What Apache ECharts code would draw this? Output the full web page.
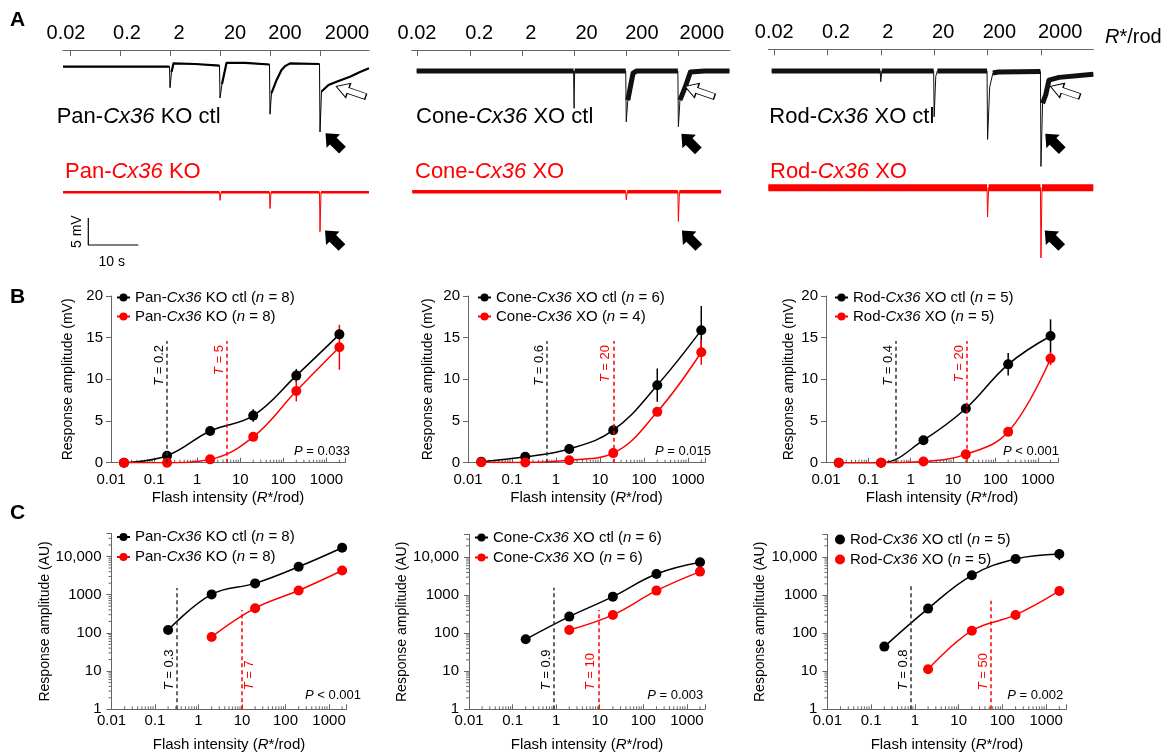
<!DOCTYPE html>
<html>
<head>
<meta charset="utf-8">
<title>Cx36 flash responses</title>
<script src="https://cdn.jsdelivr.net/npm/echarts@6/dist/echarts.min.js"></script>
<style>
html, body { margin: 0; padding: 0; background: #fff; }
#main { width: 1165px; height: 752px; }
</style>
</head>
<body>
<div id="main"></div>
<script>
// ---------- data ----------
var flashLabels = ['0.02', '0.2', '2', '20', '200', '2000'];
var flashTimes = [0, 10, 20, 30, 40, 50];          // s, flash onsets in A
var intensity = [0.02, 0.2, 2, 20, 200, 2000];     // R*/rod
var intensityC = [0.2, 2, 20, 200, 2000];
var intensityCKo = [2, 20, 200, 2000];
var minorTicksX = [0.02, 0.03, 0.04, 0.05, 0.06, 0.07, 0.08, 0.09, 0.2, 0.3, 0.4, 0.5, 0.6, 0.7, 0.8, 0.9,
  2, 3, 4, 5, 6, 7, 8, 9, 20, 30, 40, 50, 60, 70, 80, 90, 200, 300, 400, 500, 600, 700, 800, 900, 2000];
var minorTicksY = [2, 3, 4, 5, 6, 7, 8, 9, 20, 30, 40, 50, 60, 70, 80, 90, 200, 300, 400, 500, 600, 700, 800, 900,
  2000, 3000, 4000, 5000, 6000, 7000, 8000, 9000, 20000, 30000];

// A: example traces [t (s), mV]; *Band = noisy stretches
var panCtlTrace = [[-1.4, 0], [19.9, 0], [20, -3.9], [20.3, -1.0], [20.7, 0.6], [25, 0.5], [29.9, 0.2], [30, -5.8],
  [30.4, -3.2], [31.3, 0.7], [35, 0.7], [39.9, 0.4], [40, -8.8], [40.3, -4.9], [41.3, -2.5], [42.3, -0.6], [43, 0.1],
  [44, 0.6], [49.9, 0.5], [50, -12.1], [50.3, -4.6], [51.7, -3.4], [53.3, -2.8], [56, -1.85], [58, -1.0], [59.8, -0.3]];
var panCtlBand = [[[-1.4, 0], [19.9, 0]], [[20.3, -1.0], [20.7, 0.6], [25, 0.5], [29.9, 0.2]],
  [[30.4, -3.2], [31.3, 0.7], [35, 0.7], [39.9, 0.4]],
  [[40.3, -4.9], [41.3, -2.5], [42.3, -0.6], [43, 0.1], [44, 0.6], [49.9, 0.5]],
  [[50.3, -4.6], [51.7, -3.4], [53.3, -2.8], [56, -1.85], [58, -1.0], [59.8, -0.3]]];
var panKoTrace = [[-1.4, 0], [29.9, 0], [30, -1.5], [30.2, 0], [39.9, 0], [40, -3], [40.2, 0], [49.9, 0], [50, -7.3],
  [50.2, 0], [59.8, 0]];
var panKoBand = [[[-1.4, 0], [29.9, 0]], [[30.2, 0], [39.9, 0]], [[40.2, 0], [49.9, 0]], [[50.2, 0], [59.8, 0]]];

var coneCtlTrace = [[-0.2, 0], [29.9, 0], [30, -6.9], [30.1, 0], [39.9, 0], [40, -9.4], [40.3, -5.4], [41.3, -0.4],
  [42, 0], [49.9, 0], [50, -10.3], [50.3, -5.4], [51.3, -3], [52.3, -0.2], [55, 0], [59.8, 0]];
var coneCtlBand = [[[-0.2, 0], [29.9, 0]], [[30.1, 0], [39.9, 0]], [[40.3, -5.4], [41.3, -0.4], [42, 0], [49.9, 0]],
  [[50.3, -5.4], [51.3, -3], [52.3, -0.2], [55, 0], [59.8, 0]]];
var coneXoTrace = [[-1.04, 0], [39.9, 0], [40, -1.5], [40.2, 0], [49.9, 0], [50, -5.5], [50.2, 0], [58.2, 0]];
var coneXoBand = [[[-1.04, 0], [39.9, 0]], [[40.2, 0], [49.9, 0]], [[50.2, 0], [58.2, 0]]];

var rodCtlTrace = [[-0.43, 0], [19.9, 0], [20, -2], [20.2, 0], [29.9, 0], [30, -8.5], [30.3, -1], [30.6, 0], [39.9, 0],
  [40, -12.7], [40.4, -3], [41, -0.4], [42, -0.2], [49.9, -0.1], [50, -17.7], [50.3, -6], [50.9, -4.4], [51.5, -1.7],
  [53.4, -1.2], [59.8, -0.6]];
var rodCtlBand = [[[-0.43, 0], [19.9, 0]], [[20.2, 0], [29.9, 0]], [[30.6, 0], [39.9, 0]],
  [[41, -0.4], [42, -0.2], [49.9, -0.1]], [[50.3, -6], [50.9, -4.4], [51.5, -1.7], [53.4, -1.2], [59.8, -0.6]]];
var rodXoTrace = [[-1.06, 0], [39.9, 0], [40, -5.4], [40.2, 0], [49.9, 0], [50, -13], [50.2, 0], [59.8, 0]];
var rodXoBand = [[[-1.06, 0], [39.9, 0]], [[40.2, 0], [49.9, 0]], [[50.2, 0], [59.8, 0]]];

// B: response amplitude (mV), mean and SEM
var panCtlB = [0, 0.84, 3.8, 5.65, 10.45, 15.4];
var panCtlBErr = [0, 0.15, 0.2, 0.75, 0.8, 0.4];
var panKoB = [0, 0, 0.4, 3.1, 8.6, 13.85];
var panKoBErr = [0, 0, 0.1, 0.2, 1.25, 2.7];
var coneCtlB = [0.1, 0.7, 1.65, 3.9, 9.3, 15.9];
var coneCtlBErr = [0.05, 0.1, 0.15, 0.3, 2.0, 2.9];
var coneXoB = [0.05, 0.02, 0.3, 1.15, 6.1, 13.25];
var coneXoBErr = [0, 0, 0.1, 0.4, 0.4, 1.5];
var rodCtlB = [0, 0, 2.7, 6.5, 11.8, 15.2];
var rodCtlBErr = [0, 0, 0.2, 0.3, 1.35, 2.0];
var rodXoB = [0, 0, 0.15, 1.0, 3.7, 12.5];
var rodXoBErr = [0, 0, 0.05, 0.2, 0.35, 0.8];

// C: response amplitude (AU)
var panCtlC = [119, 1018, 1977, 5370, 16900];
var panKoC = [78.5, 443, 1285, 4300];
var coneCtlC = [69.5, 275, 922, 3640, 7380];
var coneXoC = [122, 304, 1327, 4200];
var rodCtlC = [44.6, 446, 3360, 9040, 12240];
var rodCtlCLo = [44.6, 446, 3360, 8600, 8400];
var rodCtlCHi = [44.6, 446, 3360, 9500, 15500];
var rodXoC = [11.3, 117, 304, 1300];

// thresholds: line position, top of line, label
var panThrB = { x: [0.2, 4.8], top: [14.6, 14.6], text: ['0.2', '5'] };
var coneThrB = { x: [0.62, 20], top: [14.6, 14.6], text: ['0.6', '20'] };
var rodThrB = { x: [0.44, 21], top: [14.6, 14.6], text: ['0.4', '20'] };
var panThrC = { x: [0.32, 10], top: [1500, 400], text: ['0.3', '7'] };
var coneThrC = { x: [0.9, 9.3], top: [1590, 410], text: ['0.9', '10'] };
var rodThrC = { x: [0.8, 55], top: [1760, 720], text: ['0.8', '50'] };

var legendText = {
  B1k: 'Pan-{i|Cx36} KO ctl ({i|n} = 8)', B1r: 'Pan-{i|Cx36} KO ({i|n} = 8)',
  B2k: 'Cone-{i|Cx36} XO ctl ({i|n} = 6)', B2r: 'Cone-{i|Cx36} XO ({i|n} = 4)',
  B3k: 'Rod-{i|Cx36} XO ctl ({i|n} = 5)', B3r: 'Rod-{i|Cx36} XO ({i|n} = 5)',
  C1k: 'Pan-{i|Cx36} KO ctl ({i|n} = 8)', C1r: 'Pan-{i|Cx36} KO ({i|n} = 8)',
  C2k: 'Cone-{i|Cx36} XO ctl ({i|n} = 6)', C2r: 'Cone-{i|Cx36} XO ({i|n} = 6)',
  C3k: 'Rod-{i|Cx36} XO ctl ({i|n} = 5)', C3r: 'Rod-{i|Cx36} XO ({i|n} = 5)'
};

// ---------- layout / style ----------
var FONT = '"Liberation Sans", Arial, Helvetica, sans-serif';
var AX = '#666';
var RED = '#ff0000';
var PX_MV = 5.4;
var V_MIN = -20;
var ARROW = 'path://M10,0L20,12L14,12L14,30L6,30L6,12L0,12Z';
var ARROW_FAT = 'path://M10,0L20,11L15,11L15,24L5,24L5,11L0,11Z';

var option = {
  animation: false,
  backgroundColor: '#fff',
  textStyle: { fontFamily: FONT },
  grid: [], xAxis: [], yAxis: [], series: [], legend: [], graphic: []
};

function italicRich(size, color) {
  return { i: { fontStyle: 'italic', fontSize: size, fontFamily: FONT, color: color, fill: color } };
}

function txt(x, y, text, size, color, align, extra) {
  var el = {
    type: 'text', x: x, y: y, silent: true,
    style: {
      text: text, fill: color || '#000', fontSize: size, fontFamily: FONT,
      align: align || 'left', verticalAlign: 'middle', rich: italicRich(size, color || '#000')
    }
  };
  if (extra) for (var k in extra) el[k] = extra[k];
  option.graphic.push(el);
}

function flashFmt(times) {
  return function (v) {
    for (var i = 0; i < times.length; i++) {
      if (Math.abs(times[i] - v) < 1e-6) return flashLabels[i];
    }
    return '';
  };
}

function decadeLabel(v, comma) {
  var l = Math.log(v) / Math.LN10, r = Math.round(l);
  if (Math.abs(l - r) > 1e-4) return '';
  if (r < 0) return Math.pow(10, r).toFixed(-r);
  var s = String(Math.round(Math.pow(10, r)));
  return (comma && s.length > 4) ? s.replace(/(\d)(?=(\d{3})+$)/g, '$1,') : s;
}

// ---------- panel A ----------
function traceGrid(left, top, width, tRange, vMax, labelTimes) {
  var gi = option.grid.length;
  option.grid.push({ left: left, top: top, width: width, height: (vMax - V_MIN) * PX_MV, outerBoundsMode: 'none' });
  var ax = { gridIndex: gi, type: 'value', min: tRange[0], max: tRange[1], splitLine: { show: false } };
  if (labelTimes) {
    ax.position = 'top';
    ax.axisLine = { show: true, onZero: false, lineStyle: { color: AX, width: 1 } };
    ax.axisTick = { show: true, inside: true, length: 6, customValues: flashTimes, lineStyle: { color: AX } };
    ax.axisLabel = { show: true, customValues: labelTimes, margin: 7, color: '#000', fontSize: 20,
      fontFamily: FONT, formatter: flashFmt(labelTimes) };
  } else {
    ax.show = false;
  }
  option.xAxis.push(ax);
  option.yAxis.push({ gridIndex: gi, type: 'value', min: V_MIN, max: vMax, show: false });
  return gi;
}

function drawTrace(gi, main, bands, color, bandWidth) {
  option.series.push({ type: 'line', xAxisIndex: gi, yAxisIndex: gi, data: main, showSymbol: false,
    silent: true, lineStyle: { color: color, width: 1 }, z: 3 });
  bands.forEach(function (seg) {
    option.series.push({ type: 'line', xAxisIndex: gi, yAxisIndex: gi, data: seg, showSymbol: false,
      silent: true, lineStyle: { color: color, width: bandWidth, join: 'round' }, z: 3 });
  });
}

function arrows(gi, pts, open) {
  option.series.push({
    type: 'scatter', xAxisIndex: gi, yAxisIndex: gi, data: pts, silent: true, z: 6,
    symbol: open ? ARROW : ARROW_FAT, symbolSize: open ? [15, 31] : [19, 24], symbolRotate: open ? 71 : 45,
    itemStyle: open ? { color: '#fff', borderColor: '#000', borderWidth: 1, opacity: 1 } : { color: '#000', opacity: 1 }
  });
}

var g;
g = traceGrid(63, 50, 306, [-1.4, 59.8], 3.09, [-0.8, 11.4, 21.8, 33, 43, 55.4]);
drawTrace(g, panCtlTrace, panCtlBand, '#000', 2.2);
arrows(g, [[52.8, -13.9]], false);
arrows(g, [[56.2, -4.6]], true);
g = traceGrid(63, 170.7, 306, [-1.4, 59.8], 4, null);
drawTrace(g, panKoTrace, panKoBand, RED, 2.5);
arrows(g, [[52.7, -8.65]], false);
// scale bar 5 mV / 10 s
var barCorner = [3.66, -9.76], barMV = 5, barS = 10;
option.series.push({ type: 'line', xAxisIndex: g, yAxisIndex: g, showSymbol: false, silent: true,
  data: [[barCorner[0], barCorner[1] + barMV], barCorner, [barCorner[0] + barS, barCorner[1]]],
  lineStyle: { color: '#000', width: 1.2 } });

g = traceGrid(411.7, 50, 318.3, [-1.15, 59.9], 3.89, [-0.13, 11.8, 21.7, 32.4, 43, 54.5]);
drawTrace(g, coneCtlTrace, coneCtlBand, '#111', 5);
arrows(g, [[52.2, -13.2]], false);
arrows(g, [[54.1, -3.8]], true);
g = traceGrid(411.7, 170.1, 318.3, [-1.15, 59.9], 4, null);
drawTrace(g, coneXoTrace, coneXoBand, RED, 3.5);
arrows(g, [[52.3, -8.76]], false);

g = traceGrid(768.3, 49.3, 325, [-1.06, 59.8], 4.0, [0.05, 11.6, 21.3, 31.7, 42.2, 53.6]);
drawTrace(g, rodCtlTrace, rodCtlBand, '#111', 5);
arrows(g, [[52.4, -13.2]], false);
arrows(g, [[54.5, -3.8]], true);
g = traceGrid(768.3, 166.1, 325, [-1.06, 59.8], 4, null);
drawTrace(g, rodXoTrace, rodXoBand, RED, 7);
arrows(g, [[52.3, -9.5]], false);

txt(1105, 37, '{i|R}*/rod', 20, '#000');
txt(56.7, 116.7, 'Pan-{i|Cx36} KO ctl', 22, '#000');
txt(65, 171.7, 'Pan-{i|Cx36} KO', 22, RED);
txt(416, 116.7, 'Cone-{i|Cx36} XO ctl', 22, '#000');
txt(415, 171.7, 'Cone-{i|Cx36} XO', 22, RED);
txt(769.3, 116.7, 'Rod-{i|Cx36} XO ctl', 22, '#000');
txt(770, 171.7, 'Rod-{i|Cx36} XO', 22, RED);
txt(77.3, 231.7, '5 mV', 14, '#000', 'center', { rotation: Math.PI / 2 });
txt(111.7, 261.7, '10 s', 14, '#000', 'center');

// ---------- panels B and C ----------
function errRender(color) {
  return function (params, api) {
    var x = api.value(0);
    var a = api.coord([x, api.value(1)]), b = api.coord([x, api.value(2)]);
    return { type: 'line', shape: { x1: a[0], y1: a[1], x2: b[0], y2: b[1] },
      style: { stroke: color, lineWidth: 1.5 } };
  };
}

function doseChart(p) {
  var gi = option.grid.length;
  option.grid.push({ left: p.left, top: p.top, width: p.width, height: p.height, outerBoundsMode: 'none' });
  option.xAxis.push({
    gridIndex: gi, type: 'log', logBase: 10, min: 0.01, max: p.xMax,
    name: 'Flash intensity ({i|R}*/rod)', nameLocation: 'middle', nameGap: 28,
    nameTextStyle: { color: '#000', fontSize: 15, fontFamily: FONT, rich: italicRich(15, '#000') },
    axisLine: { show: true, onZero: false, lineStyle: { color: AX, width: 1 } },
    axisTick: { show: true, inside: true, length: 5, lineStyle: { color: AX } },
    axisLabel: { color: '#000', fontSize: 15, margin: p.xMargin, formatter: function (v) { return decadeLabel(v, false); } },
    splitLine: { show: false }, minorTick: { show: false }
  });
  var y = {
    gridIndex: gi, name: p.log ? 'Response amplitude (AU)' : 'Response amplitude (mV)',
    nameLocation: 'middle', nameGap: p.yGap,
    nameTextStyle: { color: '#000', fontSize: 14, fontFamily: FONT },
    axisLine: { show: true, onZero: false, lineStyle: { color: AX, width: 1 } },
    axisTick: { show: true, inside: false, length: 5, lineStyle: { color: AX } },
    axisLabel: { color: '#000', fontSize: 15, margin: p.log ? 10 : 8 },
    splitLine: { show: false }
  };
  if (p.log) {
    y.type = 'log'; y.logBase = 10; y.min = 1; y.max = 40000;
    y.axisLabel.formatter = function (v) { return decadeLabel(v, true); };
  } else {
    y.type = 'value'; y.min = 0; y.max = 20; y.interval = 5;
  }
  option.yAxis.push(y);

  var yBase = p.log ? 1 : 0;
  // minor ticks
  option.series.push({
    type: 'custom', xAxisIndex: gi, yAxisIndex: gi, silent: true, z: 1,
    data: minorTicksX.map(function (v) { return [v, yBase]; }), encode: { x: 0, y: 1 },
    renderItem: function (params, api) {
      var pt = api.coord([api.value(0), api.value(1)]);
      var cs = params.coordSys;
      if (pt[0] > cs.x + cs.width + 0.5) return null;
      return { type: 'line', shape: { x1: pt[0], y1: pt[1], x2: pt[0], y2: pt[1] - 3 }, style: { stroke: AX, lineWidth: 1 } };
    }
  });
  if (p.log) {
    option.series.push({
      type: 'custom', xAxisIndex: gi, yAxisIndex: gi, silent: true, z: 1,
      data: minorTicksY.map(function (v) { return [0.01, v]; }), encode: { x: 0, y: 1 },
      renderItem: function (params, api) {
        var pt = api.coord([api.value(0), api.value(1)]);
        return { type: 'line', shape: { x1: pt[0], y1: pt[1], x2: pt[0] - 3, y2: pt[1] }, style: { stroke: AX, lineWidth: 1 } };
      }
    });
  }

  p.curves.forEach(function (c, k) {
    var thr = p.thr;
    var isRed = c.color === RED;
    option.series.push({
      type: 'line', name: c.name, xAxisIndex: gi, yAxisIndex: gi, z: 3,
      data: c.x.map(function (x, i) { return [x, c.y[i]]; }),
      smooth: 0.4, symbol: 'circle', symbolSize: 10, showSymbol: true,
      itemStyle: { color: c.color, opacity: 1 }, lineStyle: { color: c.color, width: 1.5 },
      markLine: {
        silent: true, symbol: ['none', 'none'],
        lineStyle: { color: isRed ? RED : '#333', type: [4, 3], width: 1.5 },
        label: {
          show: true, position: p.thrPos[k], distance: p.thrDist, color: c.color, fontSize: 13, fontFamily: FONT,
          formatter: '{i|T} = ' + thr.text[k], rich: italicRich(13, c.color)
        },
        data: [[{ coord: [thr.x[k], yBase] }, { coord: [thr.x[k], thr.top[k]] }]]
      }
    });
    if (c.lo) {
      option.series.push({
        type: 'custom', xAxisIndex: gi, yAxisIndex: gi, silent: true, z: 2,
        data: c.x.map(function (x, i) { return [x, c.lo[i], c.hi[i]]; }), encode: { x: 0, y: [1, 2] },
        renderItem: errRender(c.color)
      });
    }
  });

  option.legend.push({
    data: p.curves.map(function (c) { return p.dotLegend ? { name: c.name, icon: 'circle' } : c.name; }),
    left: p.legLeft, top: p.legTop, orient: 'vertical', itemGap: p.legGap, padding: 0,
    itemWidth: p.dotLegend ? 10 : 13, itemHeight: 10, selectedMode: false,
    textStyle: { color: '#000', fontSize: 15, fontFamily: FONT, rich: italicRich(15, '#000') },
    formatter: function (name) { return legendText[name]; }
  });
  txt(p.pPos[0], p.pPos[1], '{i|P} ' + p.pText, 13, '#000', 'right');
}

function semCurve(name, x, y, e, color) {
  return {
    name: name, x: x, y: y, color: color,
    lo: y.map(function (v, i) { return Math.max(0, v - e[i]); }),
    hi: y.map(function (v, i) { return v + e[i]; })
  };
}

doseChart({ left: 111, top: 296, width: 234, height: 166.7, xMax: 2700, log: false, yGap: 36, xMargin: 10,
  thr: panThrB, thrPos: ['insideEndTop', 'insideEndTop'], thrDist: [4, 1],
  curves: [semCurve('B1k', intensity, panCtlB, panCtlBErr, '#000'), semCurve('B1r', intensity, panKoB, panKoBErr, RED)],
  legLeft: 116, legTop: 290, legGap: 4, pPos: [350, 451.7], pText: '= 0.033' });
doseChart({ left: 468, top: 296, width: 237, height: 166.7, xMax: 2430, log: false, yGap: 33, xMargin: 10,
  thr: coneThrB, thrPos: ['insideEndTop', 'insideEndTop'], thrDist: [4, 1],
  curves: [semCurve('B2k', intensity, coneCtlB, coneCtlBErr, '#000'), semCurve('B2r', intensity, coneXoB, coneXoBErr, RED)],
  legLeft: 477, legTop: 290, legGap: 4, pPos: [711, 451.7], pText: '= 0.015' });
doseChart({ left: 826, top: 296, width: 232, height: 166.7, xMax: 3000, log: false, yGap: 30, xMargin: 10,
  thr: rodThrB, thrPos: ['insideEndTop', 'insideEndTop'], thrDist: [4, 1],
  curves: [semCurve('B3k', intensity, rodCtlB, rodCtlBErr, '#000'), semCurve('B3r', intensity, rodXoB, rodXoBErr, RED)],
  legLeft: 834, legTop: 290, legGap: 4, pPos: [1059, 451.7], pText: '< 0.001' });

doseChart({ left: 111.5, top: 533.5, width: 235, height: 175.8, xMax: 2520, log: true, yGap: 56, xMargin: 4,
  thr: panThrC, thrPos: ['insideStartTop', 'insideStartBottom'], thrDist: [19, 1],
  curves: [{ name: 'C1k', x: intensityC, y: panCtlC, color: '#000' }, { name: 'C1r', x: intensityCKo, y: panKoC, color: RED }],
  legLeft: 116, legTop: 529.5, legGap: 5, pPos: [361, 695], pText: '< 0.001' });
doseChart({ left: 469, top: 534.4, width: 236, height: 174.9, xMax: 2600, log: true, yGap: 54, xMargin: 4,
  thr: coneThrC, thrPos: ['insideStartTop', 'insideStartTop'], thrDist: [19, 1],
  curves: [{ name: 'C2k', x: intensityC, y: coneCtlC, color: '#000' }, { name: 'C2r', x: intensityCKo, y: coneXoC, color: RED }],
  legLeft: 474, legTop: 530, legGap: 5, pPos: [703.3, 695.7], pText: '= 0.003' });
doseChart({ left: 827.4, top: 534.4, width: 239, height: 174.9, xMax: 2900, log: true, yGap: 56, xMargin: 4,
  thr: rodThrC, thrPos: ['insideStartTop', 'insideStartTop'], thrDist: [19, 1], dotLegend: true,
  curves: [{ name: 'C3k', x: intensityC, y: rodCtlC, color: '#000', lo: rodCtlCLo, hi: rodCtlCHi },
    { name: 'C3r', x: intensityCKo, y: rodXoC, color: RED }],
  legLeft: 835, legTop: 532, legGap: 5, pPos: [1063.3, 695.7], pText: '= 0.002' });

// panel letters
['A', 'B', 'C'].forEach(function (s, i) {
  option.graphic.push({ type: 'text', x: 10, y: [20, 297, 513][i], silent: true,
    style: { text: s, fill: '#000', fontSize: 21, fontWeight: 'bold', fontFamily: FONT, verticalAlign: 'middle' } });
});

var chart = echarts.init(document.getElementById('main'), null, { renderer: 'canvas' });
chart.setOption(option);
</script>
</body>
</html>
